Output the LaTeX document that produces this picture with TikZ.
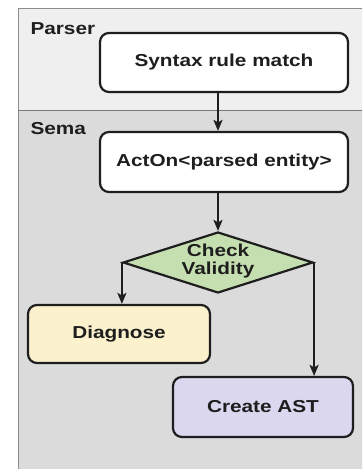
\documentclass[tikz,border=0pt]{standalone}
\usepackage{fontspec}
\newfontfamily\lblfont[FakeStretch=1.2]{Liberation Sans}
\usetikzlibrary{shapes.geometric,arrows.meta,calc}
\definecolor{parserbg}{HTML}{EFEFEF}
\definecolor{semabg}{HTML}{DBDBDB}
\definecolor{framegray}{HTML}{8C8C8C}
\definecolor{sepgray}{HTML}{7A7A7A}
\definecolor{boxline}{HTML}{1E1E1E}
\definecolor{diafill}{HTML}{C5DFB0}
\definecolor{diagfill}{HTML}{FBF1CD}
\definecolor{astfill}{HTML}{DAD7EF}
\tikzset{
  lbl/.style={font=\lblfont\bfseries\fontsize{17.3}{19}\selectfont, text=boxline},
  box/.style={lbl, draw=boxline, line width=2.2pt, rounded corners=9pt, inner sep=0pt},
  arr/.style={draw=boxline, line width=2.2pt, -{Stealth[length=11pt,width=9pt,inset=2.5pt]}},
}
\begin{document}
\begin{tikzpicture}[x=1pt,y=-1pt]
\useasboundingbox (0,0) rectangle (362,469);
\clip (0,0) rectangle (362,469);
\fill[white] (0,0) rectangle (362,469);
\fill[parserbg] (18,8) rectangle (370,110);
\fill[semabg] (18,110) rectangle (370,480);
\draw[framegray, line width=1pt] (370,8) -- (18,8) -- (18,480);
\draw[sepgray, line width=1pt] (18,110) -- (370,110);
\node[lbl, anchor=west] (parser) at (27,29) {Parser};
\node[lbl, anchor=west] (sema) at (27,129) {Sema};
\node[box, fill=white, minimum width=248, minimum height=59] (syn) at (224,62.5) {Syntax rule match};
\node[box, fill=white, minimum width=248, minimum height=60] (act) at (224,162) {ActOn<parsed entity>};
\node[diamond, draw=boxline, line width=2.2pt, fill=diafill, minimum width=190, minimum height=61, inner sep=0pt] (dia) at (218,262.5) {};
\node[lbl, align=center] (diatxt) at (218,261.5) {Check\\[-1pt]Validity};
\node[box, fill=diagfill, minimum width=182, minimum height=58] (diag) at (119,334) {Diagnose};
\node[box, fill=astfill, minimum width=180, minimum height=60] (ast) at (263,407) {Create AST};
\draw[arr] (syn.south -| dia.north) -- (act.north -| dia.north);
\draw[arr] (act.south -| dia.north) -- (dia.north);
\draw[arr] (dia.west) -- (dia.west |- diag.north);
\draw[arr] (dia.east) -- (dia.east |- ast.north);
\end{tikzpicture}
\end{document}
